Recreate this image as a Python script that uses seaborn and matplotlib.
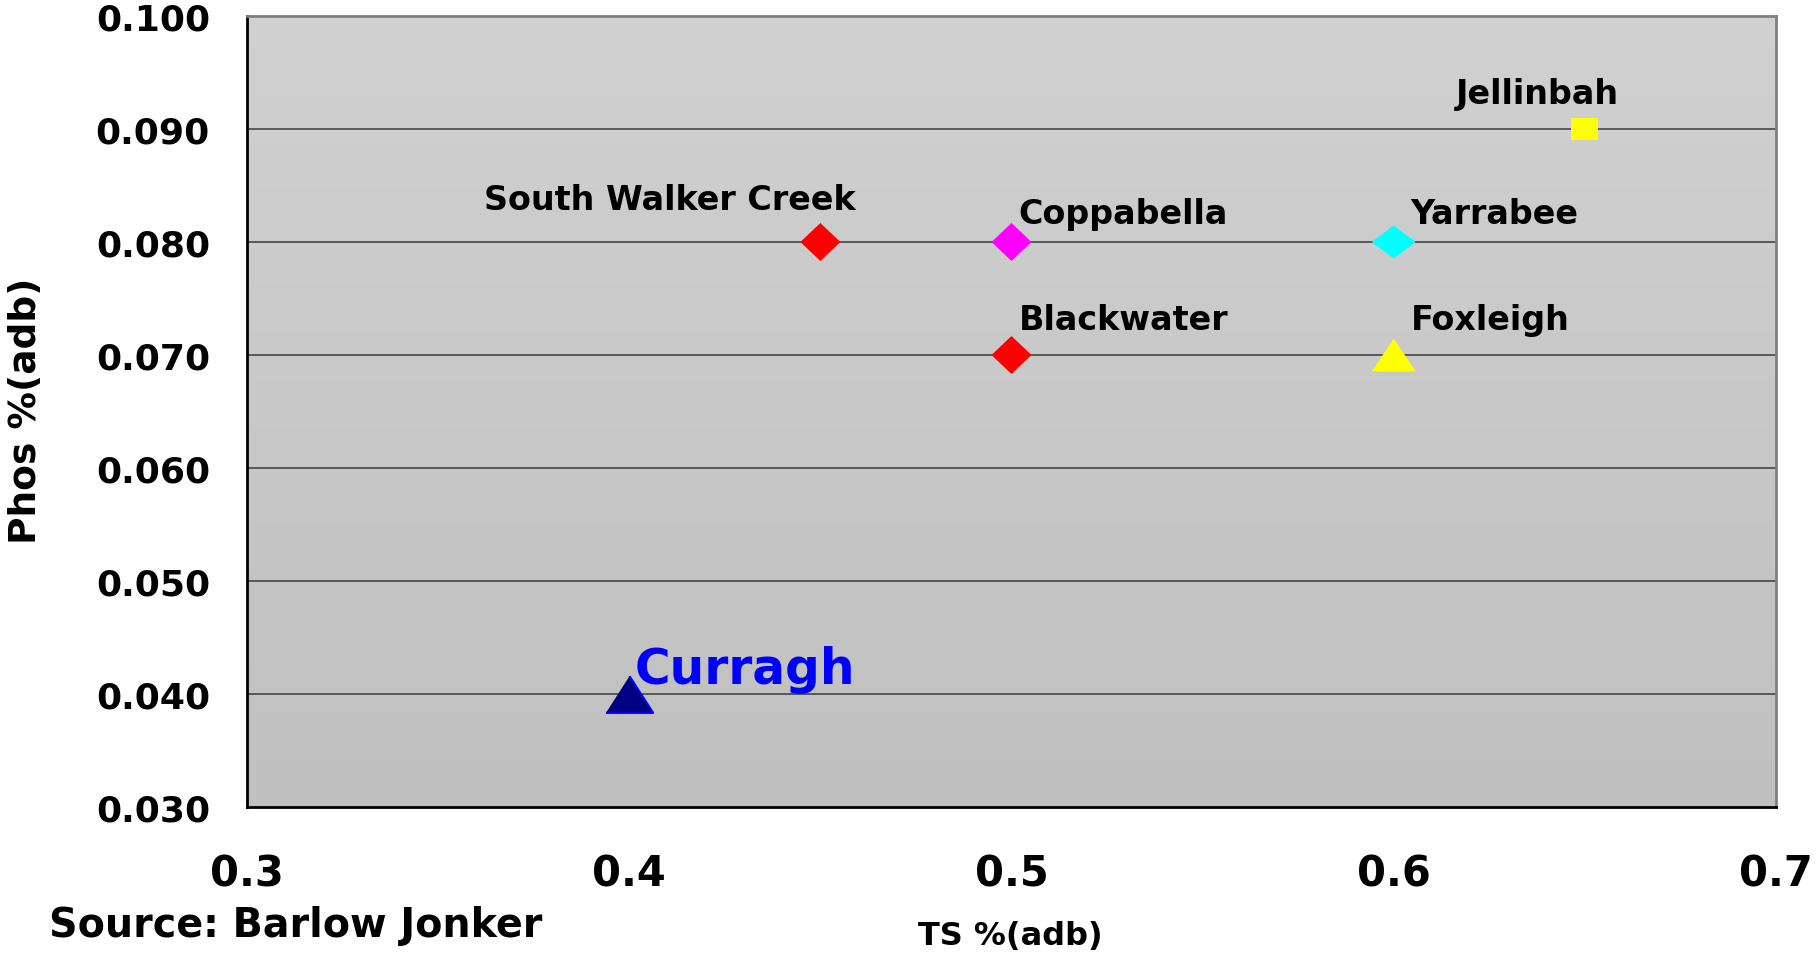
import numpy as np
import pandas as pd
import matplotlib
matplotlib.use("Agg")
import matplotlib.pyplot as plt
from matplotlib.ticker import MultipleLocator, FormatStrFormatter
import seaborn as sns

# Mine data
mines = ["South Walker Creek", "Coppabella", "Blackwater", "Yarrabee",
         "Foxleigh", "Jellinbah", "Curragh"]
ts_adb = [0.45, 0.50, 0.50, 0.60, 0.60, 0.65, 0.40]
phos_adb = [0.080, 0.080, 0.070, 0.080, 0.070, 0.090, 0.040]

x_ticks = [0.3, 0.4, 0.5, 0.6, 0.7]
y_ticks = [0.030, 0.040, 0.050, 0.060, 0.070, 0.080, 0.090, 0.100]

df = pd.DataFrame({"mine": mines, "ts": ts_adb, "phos": phos_adb})

# marker shapes
diamond = [(-1, 0), (0, 0.95), (1, 0), (0, -0.95)]
wide_diamond = [(-1, 0), (0, 0.75), (1, 0), (0, -0.75)]
wide_tri = [(-1, -0.75), (1, -0.75), (0, 0.75)]
tri = [(-1, -0.78), (1, -0.78), (0, 0.78)]
rect = [(-1, -0.78), (1, -0.78), (1, 0.78), (-1, 0.78)]

style = {
    "South Walker Creek": dict(marker=diamond, color="#ff0000", s=830),
    "Coppabella": dict(marker=diamond, color="#ff00ff", s=830),
    "Blackwater": dict(marker=diamond, color="#ff0000", s=830),
    "Yarrabee": dict(marker=wide_diamond, color="#00ffff", s=1004),
    "Foxleigh": dict(marker=wide_tri, color="#ffff00", s=1004),
    "Jellinbah": dict(marker=rect, color="#ffff00", s=378),
    "Curragh": dict(marker=tri, color="#000080", s=1145),
}

# label offsets in pixels from the marker, and alignment
label_pos = {
    "South Walker Creek": (-151, 33, "center"),
    "Coppabella": (7, 19, "left"),
    "Blackwater": (7, 26, "left"),
    "Yarrabee": (17, 19, "left"),
    "Foxleigh": (17, 26, "left"),
    "Jellinbah": (-47, 26, "center"),
    "Curragh": (5, 11, "left"),
}

sns.set_style("white")
plt.rcParams["font.family"] = ["DejaVu Sans"]
plt.rcParams["text.color"] = "black"
plt.rcParams["xtick.color"] = "black"
plt.rcParams["ytick.color"] = "black"

W, H = 1818, 954
fig = plt.figure(figsize=(W / 100, H / 100), dpi=100)
ax = fig.add_axes([247 / W, 1 - 808 / H, (1776 - 247) / W, (808 - 17) / H])

# grey gradient background, lighter at the top
ax.imshow(np.linspace(0.815, 0.75, 256).reshape(-1, 1), cmap="gray", vmin=0, vmax=1,
          extent=[0, 1, 0, 1], transform=ax.transAxes, aspect="auto", zorder=0,
          origin="upper")

for name in mines:
    st = style[name]
    sub = df[df["mine"] == name]
    edge = "#0000ff" if name == "Curragh" else "none"
    lw = 1.6 if name == "Curragh" else 0
    sns.scatterplot(data=sub, x="ts", y="phos", ax=ax, marker=st["marker"],
                    color=st["color"], s=st["s"], edgecolor=edge, linewidth=lw,
                    zorder=3, legend=False)

for name, x, y in zip(mines, ts_adb, phos_adb):
    dx, dy, ha = label_pos[name]
    if name == "Curragh":
        ax.annotate(name, (x, y), xytext=(dx, dy), textcoords="offset pixels",
                    ha=ha, va="baseline", fontsize=35, fontweight="bold",
                    color="#0000ff", zorder=4)
    else:
        ax.annotate(name, (x, y), xytext=(dx, dy), textcoords="offset pixels",
                    ha=ha, va="baseline", fontsize=24, fontweight="bold",
                    color="black", zorder=4)

ax.set_xlim(0.3, 0.7)
ax.set_ylim(0.030, 0.100)
ax.set_xticks(x_ticks)
ax.set_yticks(y_ticks)
ax.xaxis.set_minor_locator(MultipleLocator(0.05))
ax.yaxis.set_minor_locator(MultipleLocator(0.005))
ax.yaxis.set_major_formatter(FormatStrFormatter("%.3f"))
ax.xaxis.set_major_formatter(FormatStrFormatter("%.1f"))

for yv in y_ticks[1:-1]:
    ax.axhline(yv, color="#3a3a3a", lw=1.1, zorder=1)

ax.tick_params(axis="y", which="major", direction="inout", length=19.4, width=1.2,
               pad=17, labelsize=26, color="black", labelcolor="black")
ax.tick_params(axis="y", which="minor", direction="in", length=8.6, width=1)
ax.tick_params(axis="x", which="major", direction="in", length=9.4, width=1.2,
               pad=33, labelsize=30, labelcolor="black")
ax.tick_params(axis="x", which="minor", direction="in", length=6.5, width=1)
for lab in ax.get_xticklabels() + ax.get_yticklabels():
    lab.set_fontweight("bold")

for side in ["left", "bottom"]:
    ax.spines[side].set_color("black")
    ax.spines[side].set_linewidth(2)
for side in ["top", "right"]:
    ax.spines[side].set_color("#808080")
    ax.spines[side].set_linewidth(2)

ax.set_xlabel("")
ax.set_ylabel("")
fig.text(26 / W, 1 - 411 / H, "Phos %(adb)", rotation=90, ha="center", va="center",
         fontsize=27, fontweight="bold", color="black")
fig.text(1010 / W, 1 - 945 / H, "TS %(adb)", ha="center", va="baseline",
         fontsize=23, fontweight="bold", color="black")
fig.text(49 / W, 1 - 937 / H, "Source: Barlow Jonker", ha="left", va="baseline",
         fontsize=28.5, fontweight="bold", color="black")

fig.savefig("out.png", dpi=100)
